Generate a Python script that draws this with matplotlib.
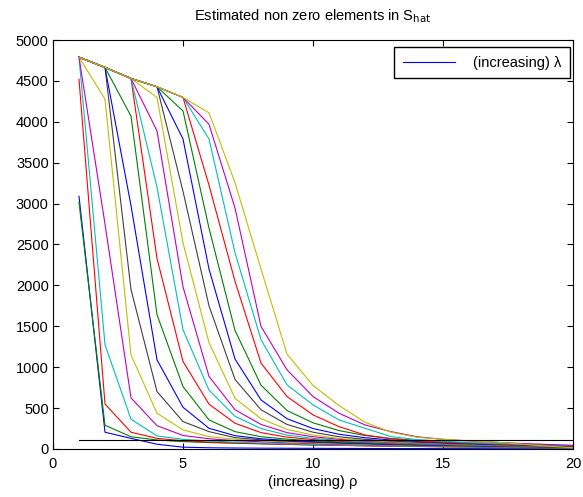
import numpy as np
import matplotlib.pyplot as plt

plt.rcParams['font.family'] = ['Liberation Sans', 'DejaVu Sans']

rho = np.arange(1, 21)

# one row per lambda value, columns are rho = 1..20
nnz_rows = [
    [3090, 205, 130, 58, 22, 15, 12, 10, 9, 8, 7, 6, 5, 5, 4, 4, 3, 3, 3, 2],
    [3015, 290, 150, 110, 90, 78, 70, 63, 56, 50, 45, 40, 36, 32, 28, 25, 22, 19, 16, 14],
    [4520, 550, 205, 130, 100, 85, 74, 65, 57, 50, 44, 39, 34, 30, 27, 24, 21, 18, 15, 12],
    [4790, 1275, 364, 160, 118, 98, 84, 73, 64, 56, 49, 43, 38, 33, 29, 25, 22, 19, 16, 13],
    [4790, 2750, 625, 285, 165, 125, 102, 88, 76, 66, 58, 51, 45, 40, 35, 31, 27, 23, 19, 16],
    [4790, 4277, 1150, 437, 233, 151, 120, 100, 86, 75, 65, 57, 50, 44, 39, 34, 30, 26, 22, 18],
    [4790, 4665, 1950, 702, 335, 212, 139, 112, 95, 82, 71, 62, 54, 47, 41, 36, 32, 28, 24, 20],
    [4790, 4665, 2975, 1090, 510, 253, 163, 125, 104, 90, 78, 68, 59, 51, 45, 40, 35, 30, 26, 22],
    [4790, 4665, 4070, 1642, 763, 355, 212, 150, 120, 100, 86, 75, 65, 57, 50, 44, 38, 33, 28, 24],
    [4790, 4665, 4530, 2330, 1070, 548, 315, 200, 145, 115, 96, 82, 71, 62, 54, 47, 41, 36, 31, 26],
    [4790, 4665, 4530, 3200, 1458, 720, 400, 250, 170, 130, 105, 88, 76, 66, 57, 50, 44, 38, 33, 28],
    [4790, 4665, 4530, 3889, 1982, 887, 480, 300, 200, 150, 118, 97, 83, 72, 63, 55, 48, 42, 36, 30],
    [4790, 4665, 4530, 4298, 2520, 1300, 620, 370, 240, 170, 130, 105, 89, 77, 67, 58, 51, 44, 38, 32],
    [4790, 4665, 4530, 4428, 3150, 1750, 850, 480, 300, 205, 150, 118, 97, 82, 70, 60, 52, 45, 39, 33],
    [4790, 4665, 4530, 4428, 3790, 2200, 1100, 600, 370, 250, 180, 138, 110, 92, 78, 67, 58, 50, 43, 36],
    [4790, 4665, 4530, 4428, 4133, 2700, 1450, 780, 470, 320, 225, 165, 128, 103, 86, 73, 63, 54, 46, 39],
    [4790, 4665, 4530, 4428, 4298, 3225, 2050, 1050, 641, 417, 273, 171, 125, 100, 85, 73, 63, 54, 46, 39],
    [4790, 4665, 4530, 4428, 4298, 3790, 2400, 1336, 784, 539, 355, 253, 151, 115, 95, 80, 68, 58, 49, 41],
    [4790, 4665, 4530, 4428, 4298, 3970, 2946, 1499, 968, 641, 437, 294, 212, 150, 118, 98, 82, 68, 56, 45],
    [4790, 4665, 4530, 4428, 4298, 4110, 3256, 2200, 1160, 776, 531, 327, 205, 143, 119, 100, 85, 60, 35, 15],
]
true_nnz = 115

# default line colour order of the old plotting tool
line_colors = [(0, 0, 1), (0, 0.5, 0), (1, 0, 0), (0, 0.75, 0.75),
               (0.75, 0, 0.75), (0.75, 0.75, 0), (0.25, 0.25, 0.25)]

fig = plt.figure(figsize=(5.83, 4.97), dpi=100)
ax = fig.add_axes([0.0909, 0.0966, 0.892, 0.8229])

for i, row in enumerate(nnz_rows):
    ax.plot(rho, row, color=line_colors[i % 7], lw=0.8,
            label='(increasing) λ' if i == 0 else None)
ax.plot(rho, np.full(len(rho), true_nnz), color='k', lw=0.8)

ax.set_xlim(0, 20)
ax.set_ylim(0, 5000)
ax.set_xticks([0, 5, 10, 15, 20])
ax.set_yticks(np.arange(0, 5001, 500))
ax.tick_params(direction='in', top=True, right=True, length=4, labelsize=10.5)
ax.tick_params(axis='x', pad=6)
ax.tick_params(axis='y', pad=3)
for s in ax.spines.values():
    s.set_linewidth(0.8)
ax.set_title(r'Estimated non zero elements in S$_{\mathrm{hat}}$', fontsize=10.5, pad=14)
ax.set_xlabel('(increasing) ρ', fontsize=10.5, labelpad=3)
ax.legend(loc='upper right', bbox_to_anchor=(0.994, 0.983), borderaxespad=0,
          fontsize=10.5, fancybox=False, edgecolor='k', framealpha=1,
          borderpad=0.6, handlelength=3.6, handletextpad=1.2)

fig.savefig('out.png', dpi=100)
